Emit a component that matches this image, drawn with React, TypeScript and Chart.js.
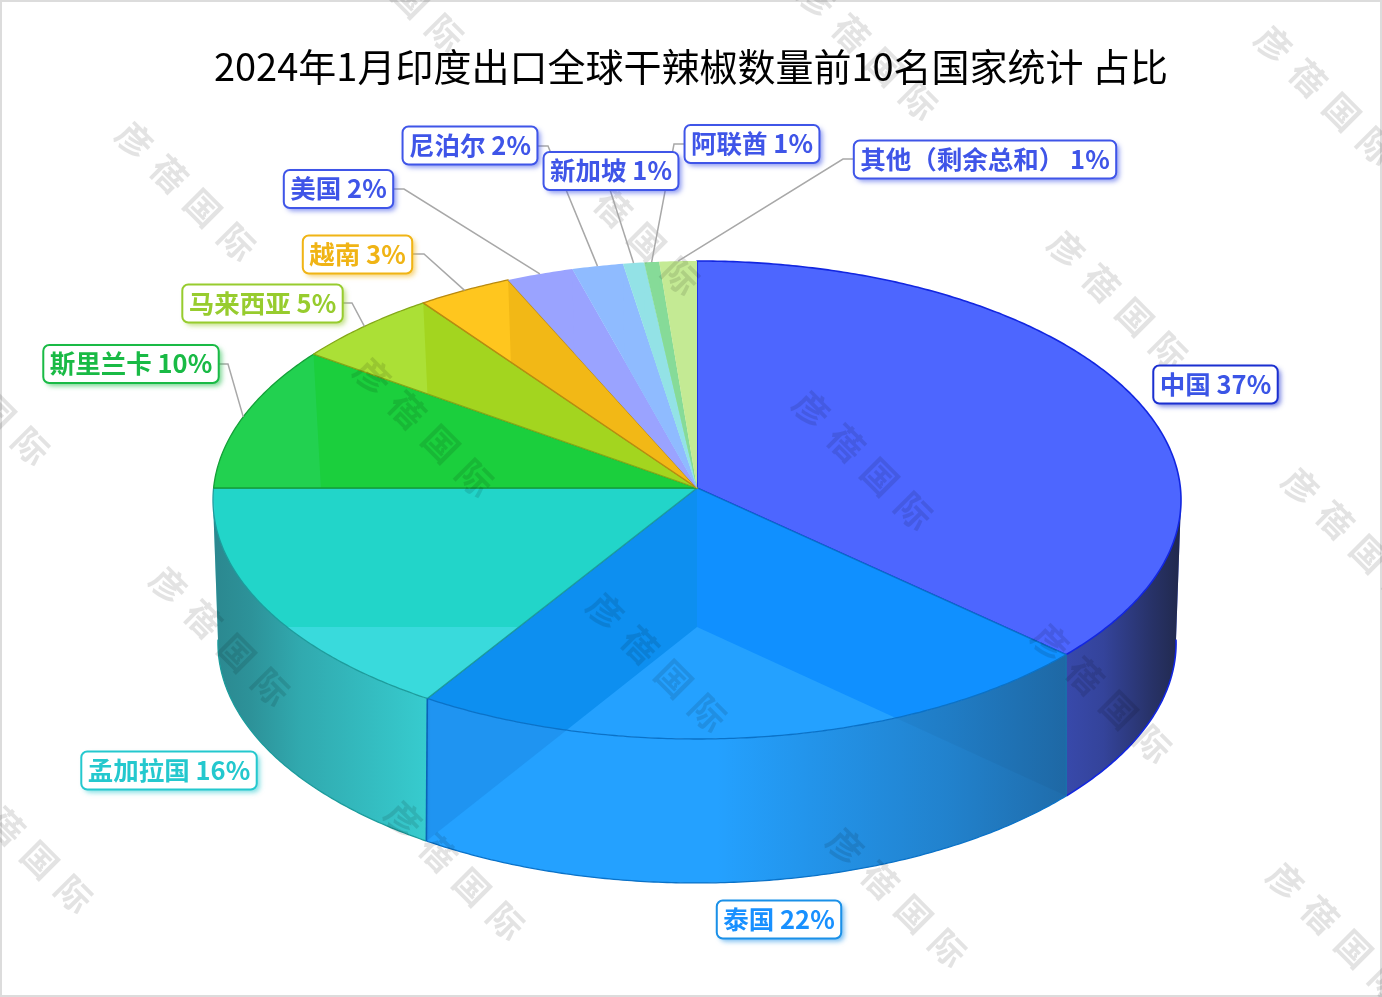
import React, { useEffect, useRef } from "react";
import { Chart, registerables, PieController, ArcElement } from "chart.js";

const titleText = "2024年1月印度出口全球干辣椒数量前10名国家统计 占比";
const categories = ["中国", "泰国", "孟加拉国", "斯里兰卡", "马来西亚", "越南", "美国", "尼泊尔", "新加坡", "阿联酋", "其他（剩余总和）"];
const shares = [36.8, 22.17, 16.03, 9.8, 5.17, 3.33, 2.34, 1.79, 0.74, 0.52, 1.31];

const litColors = ["#4D66FF", "#24A1FF", "#39DADC", "#22D150", "#ABE036", "#FFC61E", "#9AA3FF", "#8FBBFF", "#93E2E6", "#86DB98", "#C4EA94"];
const startShadeColors = ["#4D66FF", "#1090FF", "#22D5C9", "#1BCF3D", "#A3D51F", "#F2B816", "#9AA3FF", "#8FBBFF", "#93E2E6", "#86DB98", "#C4EA94"];
const endShadeColors = ["#4D66FF", "#0D8FF0", "#22D5C9", "#1BCF3D", "#A3D51F", "#F2B816", "#9AA3FF", "#8FBBFF", "#93E2E6", "#86DB98", "#C4EA94"];
const edgeColors = ["#1226E0", "#0A72C8", "#1C9C9C", "#14A038", "#84A818", "#B98A10", "", "", "", "", ""];
const wallEdgeColors = ["", "#1A6FAA", "#0A62B8"];
const labelTextColors = ["#3B55E6", "#1890FF", "#24C8CE", "#19BA45", "#97CC2E", "#F0B415", "#3F55E8", "#3F55E8", "#3F55E8", "#3F55E8", "#3F55E8"];
const labelEdgeColors = ["#1A2FD0", "#1A90E8", "#24C8CE", "#19BA45", "#97CC2E", "#F0B415", "#3F55E8", "#3F55E8", "#3F55E8", "#3F55E8", "#3F55E8"];
const labelCenters = [[1215.5, 384.5], [779, 919.5], [169, 770.5], [131, 364], [262.5, 303.5], [357.5, 254.5], [338.5, 189], [470, 145.5], [611, 171], [752, 144], [985, 159.5]];
const leaderElbows: (number[] | null)[] = [null, null, null, [228, 364, 218], [352, 303, 342], [424, 254, 412], [404, 189, 393], [548, 146, 537], [604, 171, 604], [674, 144, 685], [843, 159, 856]];
const watermarkChars = ["彦", "蓓", "国", "际"];
const watermarkCenters = [[394, -18], [868, 50], [1325, 95], [186, 191], [630, 225], [1118, 300], [-20, 395], [424, 427], [863, 460], [1352, 537], [220, 636], [657, 662], [1102, 693], [23, 843], [455, 870], [897, 897], [1337, 932]];

const CX = 697;
const TOP = { y: 488, a: 483.4, c: 238.4, k: -0.0502 };
const BOTTOM = { y: 627, a: 478, c: 238.9, k: -0.0667 };
const WALL_MIN = (3 * Math.PI) / 180;
const WALL_MAX = (177 * Math.PI) / 180;
const STEP = Math.PI / 360;

type Plane = typeof TOP;
const project = (t: number, p: Plane) => {
  const u = Math.cos(t), v = Math.sin(t), d = 1 + p.k * v;
  return [CX + (p.a * u) / d, p.y + (p.c * v) / d];
};
const addRim = (path: Path2D, a: number, b: number, p: Plane, start: boolean) => {
  const dir = b >= a ? 1 : -1;
  const n = Math.max(1, Math.ceil(Math.abs(b - a) / STEP));
  for (let i = 0; i <= n; i++) {
    const [x, y] = project(a + (dir * Math.abs(b - a) * i) / n, p);
    if (i === 0 && start) path.moveTo(x, y);
    else path.lineTo(x, y);
  }
};
const radialPath = (t: number) => {
  const path = new Path2D();
  const a = project(t, TOP), b = project(t, BOTTOM);
  path.moveTo(CX, TOP.y);
  path.lineTo(a[0], a[1]);
  path.lineTo(b[0], b[1]);
  path.lineTo(CX, BOTTOM.y);
  path.closePath();
  return path;
};

class Arc3D extends ArcElement {
  static id = "arc3d";
  draw(ctx: CanvasRenderingContext2D) {
    const el: any = this;
    const s: number = el.startAngle, e: number = el.endAngle;
    const i: number = el.$context.dataIndex;
    const lit = litColors[i], edge = edgeColors[i];

    const topPath = new Path2D();
    topPath.moveTo(CX, TOP.y);
    addRim(topPath, s, e, TOP, false);
    topPath.closePath();

    const va = Math.max(s, WALL_MIN), vb = Math.min(e, WALL_MAX);
    const hasWall = vb > va;
    const wallPath = new Path2D();
    if (hasWall) {
      addRim(wallPath, va, vb, TOP, true);
      addRim(wallPath, vb, va, BOTTOM, false);
      wallPath.closePath();
    }

    ctx.save();
    ctx.fillStyle = lit;
    ctx.fill(topPath);
    if (hasWall) ctx.fill(wallPath);

    ctx.save();
    ctx.clip(topPath);
    ctx.fillStyle = startShadeColors[i];
    ctx.fill(radialPath(s));
    ctx.fillStyle = endShadeColors[i];
    ctx.fill(radialPath(e));
    ctx.restore();

    if (hasWall) {
      ctx.save();
      ctx.clip(wallPath);
      if (i === 1) {
        ctx.fillStyle = "rgba(20,120,210,0.3)";
        ctx.fill(radialPath(e));
        ctx.fillStyle = "rgba(0,0,0,0.04)";
        ctx.fill(radialPath(s));
      }
      const g = ctx.createLinearGradient(213, 0, 1181, 0);
      const dark = (a: number) => `rgba(25,30,45,${a})`;
      g.addColorStop(0, dark(0.44));
      g.addColorStop(0.04, dark(0.38));
      g.addColorStop(0.09, dark(0.26));
      g.addColorStop(0.22, dark(0.08));
      g.addColorStop(0.225, dark(0));
      g.addColorStop(0.52, dark(0));
      g.addColorStop(0.62, dark(0.1));
      g.addColorStop(0.76, dark(0.24));
      g.addColorStop(0.88, dark(0.4));
      g.addColorStop(0.92, dark(0.48));
      g.addColorStop(0.97, dark(0.72));
      g.addColorStop(1, dark(0.85));
      ctx.fillStyle = g;
      ctx.fillRect(200, 480, 1000, 420);
      ctx.restore();
    }

    if (edge) {
      ctx.strokeStyle = edge;
      ctx.lineWidth = i === 0 ? 1.6 : 1.3;
      ctx.lineJoin = "round";
      ctx.stroke(topPath);
      if (hasWall) {
        const rim = new Path2D();
        addRim(rim, va, vb, BOTTOM, true);
        ctx.stroke(rim);
      }
    }
    if (hasWall && wallEdgeColors[i]) {
      const p0 = project(s, TOP), p1 = project(s, BOTTOM);
      ctx.strokeStyle = wallEdgeColors[i];
      ctx.lineWidth = 1.6;
      ctx.beginPath();
      ctx.moveTo(p0[0], p0[1]);
      ctx.lineTo(p1[0], p1[1]);
      ctx.stroke();
    }
    ctx.restore();
  }
}

class Pie3DController extends PieController {
  static id = "pie3d";
  static defaults = { dataElementType: "arc3d" };
}

const pagePlugin = {
  id: "page",
  beforeDraw(chart: any) {
    const { ctx, width, height } = chart;
    ctx.save();
    ctx.fillStyle = "#ffffff";
    ctx.fillRect(0, 0, width, height);
    ctx.strokeStyle = "#dcdcdc";
    ctx.lineWidth = 2;
    ctx.strokeRect(1, 1, width - 2, height - 2);
    ctx.restore();
  },
};

const drawWatermarks = (ctx: CanvasRenderingContext2D) => {
  ctx.save();
  ctx.font = 'bold 35px "Noto Sans CJK SC"';
  ctx.fillStyle = "rgba(0,0,0,0.11)";
  ctx.textAlign = "center";
  ctx.textBaseline = "middle";
  watermarkCenters.forEach(([x, y]) => {
    ctx.save();
    ctx.translate(x, y);
    ctx.rotate(Math.PI / 4);
    watermarkChars.forEach((c, k) => ctx.fillText(c, (k - 1.5) * 48, 0));
    ctx.restore();
  });
  ctx.restore();
};

const labelsPlugin = {
  id: "labels3d",
  afterDatasetsDraw(chart: any) {
    const { ctx } = chart;
    drawWatermarks(ctx);
    const arcs = chart.getDatasetMeta(0).data;
    ctx.save();
    ctx.strokeStyle = "#a8a8a8";
    ctx.lineWidth = 1.5;
    arcs.forEach((arc: any, i: number) => {
      const elbow = leaderElbows[i];
      if (!elbow) return;
      const rim = project((arc.startAngle + arc.endAngle) / 2, TOP);
      ctx.beginPath();
      ctx.moveTo(rim[0], rim[1]);
      ctx.lineTo(elbow[0], elbow[1]);
      ctx.lineTo(elbow[2], elbow[1]);
      ctx.stroke();
    });
    ctx.font = 'bold 25.5px "Noto Sans CJK SC"';
    ctx.textAlign = "center";
    ctx.textBaseline = "middle";
    categories.forEach((name, i) => {
      const text = `${name} ${Math.round(shares[i])}%`;
      const w = ctx.measureText(text).width + 13;
      const h = 38;
      const [cx, cy] = labelCenters[i];
      ctx.save();
      ctx.shadowColor = labelEdgeColors[i] + "99";
      ctx.shadowBlur = 5;
      ctx.shadowOffsetX = 3;
      ctx.shadowOffsetY = 3;
      ctx.fillStyle = "#ffffff";
      ctx.strokeStyle = labelEdgeColors[i];
      ctx.lineWidth = 2;
      ctx.beginPath();
      ctx.roundRect(cx - w / 2, cy - h / 2, w, h, 6);
      ctx.fill();
      ctx.shadowColor = "transparent";
      ctx.stroke();
      ctx.restore();
      ctx.fillStyle = labelTextColors[i];
      ctx.fillText(text, cx, cy - 0.5);
    });
    ctx.restore();
  },
};

Chart.register(...registerables, Arc3D, Pie3DController);

export default function App() {
  const ref = useRef<HTMLCanvasElement>(null);
  useEffect(() => {
    const chart = new Chart(ref.current!, {
      type: "pie3d" as any,
      data: {
        labels: categories,
        datasets: [{ data: shares, backgroundColor: litColors, borderWidth: 0 }],
      },
      options: {
        responsive: false,
        devicePixelRatio: 1,
        animation: false,
        events: [],
        plugins: {
          legend: { display: false },
          tooltip: { enabled: false },
          title: {
            display: true,
            text: titleText,
            color: "#000000",
            padding: { top: 44, bottom: 10 },
            font: { family: '"Noto Sans CJK SC"', size: 38, weight: "normal" },
          },
        },
      } as any,
      plugins: [pagePlugin, labelsPlugin],
    });
    return () => chart.destroy();
  }, []);
  return (
    <canvas
      ref={ref}
      width={1382}
      height={997}
      style={{ position: "fixed", left: 0, top: 0, display: "block" }}
    />
  );
}
